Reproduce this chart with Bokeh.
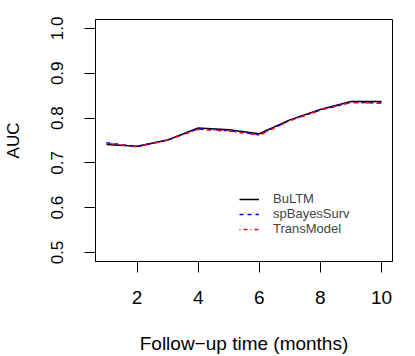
from bokeh.plotting import figure
from bokeh.models import FixedTicker, Legend, LegendItem, Range1d
from bokeh.embed import file_html
from bokeh.resources import INLINE

months = [1, 2, 3, 4, 5, 6, 7, 8, 9, 10]
bultm = [0.741, 0.737, 0.751, 0.778, 0.774, 0.765, 0.796, 0.819, 0.837, 0.837]
spbayes = [0.745, 0.736, 0.751, 0.776, 0.772, 0.763, 0.795, 0.818, 0.835, 0.834]
transmodel = [0.744, 0.736, 0.751, 0.775, 0.771, 0.762, 0.794, 0.818, 0.835, 0.833]
series_names = ["BuLTM", "spBayesSurv", "TransModel"]
x_ticks = [2, 4, 6, 8, 10]
y_ticks = [0.5, 0.6, 0.7, 0.8, 0.9, 1.0]

FONT = "Liberation Sans"

p = figure(width=415, height=356, output_backend="svg", toolbar_location=None,
           x_range=Range1d(0.64, 10.36), y_range=Range1d(0.48, 1.02),
           min_border_left=94, min_border_right=23, min_border_top=19, min_border_bottom=95)
p.background_fill_color = "white"
p.border_fill_color = "white"
p.outline_line_color = "black"
p.outline_line_width = 1
p.grid.visible = False

r1 = p.line(months, bultm, line_color="black", line_width=1.5)
r2 = p.line(months, spbayes, line_color="blue", line_width=1.5, line_dash="4 4")
r3 = p.line(months, transmodel, line_color="red", line_width=1.5, line_dash="1 3 4 3")

for ax in (p.xaxis[0], p.yaxis[0]):
    ax.axis_line_color = "black"
    ax.major_tick_in = 0
    ax.major_tick_out = 11
    ax.minor_tick_line_color = None
    ax.major_label_text_font = FONT
    ax.major_label_text_color = "black"
    ax.axis_label_text_font = FONT
    ax.axis_label_text_font_style = "normal"
    ax.axis_label_text_color = "black"

p.xaxis.major_label_text_font_size = "19px"
p.xaxis.axis_label_text_font_size = "19px"
p.yaxis.major_label_text_font_size = "17px"
p.yaxis.axis_label_text_font_size = "17px"

p.xaxis.ticker = FixedTicker(ticks=x_ticks)
p.yaxis.ticker = FixedTicker(ticks=y_ticks)
p.yaxis.major_label_overrides = {v: f"{v:.1f}" for v in y_ticks}
p.yaxis.major_label_orientation = "vertical"
p.xaxis.major_label_standoff = 18
p.yaxis.major_label_standoff = 21
p.xaxis.axis_label = "Follow\u2212up time (months)"
p.yaxis.axis_label = "AUC"
p.xaxis.axis_label_standoff = 26
p.yaxis.axis_label_standoff = 26

legend = Legend(items=[LegendItem(label=n, renderers=[r])
                       for n, r in zip(series_names, [r1, r2, r3])],
                location=(144, 25))
legend.background_fill_alpha = 0
legend.border_line_color = None
legend.padding = 0
legend.margin = 0
legend.spacing = 0
legend.glyph_width = 20
legend.glyph_height = 14
legend.label_height = 14
legend.label_standoff = 14
legend.label_text_font = FONT
legend.label_text_font_size = "13px"
p.add_layout(legend, "center")

open("out.html", "w").write(file_html(p, INLINE))
